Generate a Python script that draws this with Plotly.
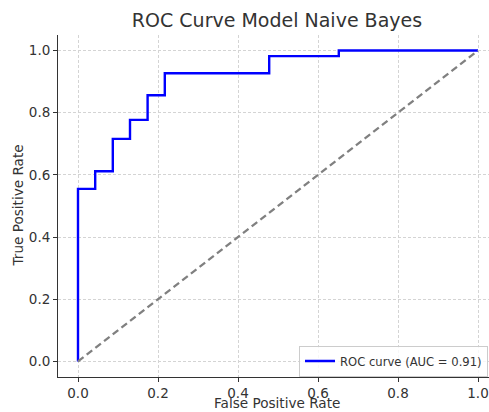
import plotly.graph_objects as go

# ROC curve points (step curve)
fpr = [0.0, 0.0, 0.043, 0.043, 0.087, 0.087, 0.130, 0.130, 0.174, 0.174, 0.217, 0.217, 0.478, 0.478, 0.652, 0.652, 1.0]
tpr = [0.0, 0.555, 0.555, 0.612, 0.612, 0.716, 0.716, 0.777, 0.777, 0.856, 0.856, 0.927, 0.927, 0.982, 0.982, 1.0, 1.0]
diag_x = [0.0, 1.0]
diag_y = [0.0, 1.0]
tick_vals = [0.0, 0.2, 0.4, 0.6, 0.8, 1.0]
tick_text = ["0.0", "0.2", "0.4", "0.6", "0.8", "1.0"]
auc_value = 0.91

FONT = "DejaVu Sans"
W, H = 498, 412          # figure a bit wider than the window; right part is cropped like the reference
ML, MR, MT, MB = 58, 0, 35, 35
PW = W - ML - MR
PH = H - MT - MB

fig = go.Figure()
fig.add_trace(go.Scatter(
    x=fpr, y=tpr, mode="lines",
    line=dict(color="#0000ff", width=2.4),
    name=f"ROC curve (AUC = {auc_value:.2f})",
))
fig.add_trace(go.Scatter(
    x=diag_x, y=diag_y, mode="lines",
    line=dict(color="#808080", width=2.3, dash="7px,4px"),
    showlegend=False,
))

axis_common = dict(
    showline=True, linecolor="#333333", linewidth=1,
    ticks="outside", ticklen=4, tickcolor="#333333", tickwidth=1,
    showgrid=True, gridcolor="#d4d4d4", gridwidth=0.7, griddash="3px,2px",
    zeroline=False, mirror=False, automargin=False,
    tickfont=dict(family=FONT, size=13.5, color="#333333"),
    tickvals=tick_vals, ticktext=tick_text,
)

title_font = dict(family=FONT, size=13.6, color="#333333")

fig.update_layout(
    width=W, height=H,
    margin=dict(l=ML, r=MR, t=MT, b=MB),
    paper_bgcolor="white", plot_bgcolor="white",
    title=dict(
        text="ROC Curve Model Naive Bayes",
        font=dict(family=FONT, size=19, color="#333333"),
        x=(277 - ML) / PW, xanchor="center", xref="paper",
        y=1 - 20 / H, yanchor="middle",
    ),
    xaxis=dict(range=[-0.05, 1.05], ticklabelstandoff=0, **axis_common),
    yaxis=dict(range=[-0.05, 1.05], **axis_common),
    legend=dict(
        x=(488 - ML) / PW, xanchor="right",
        y=(377 - 361) / PH, yanchor="middle",
        bgcolor="rgba(255,255,255,0.8)", bordercolor="#cccccc", borderwidth=1,
        font=dict(family=FONT, size=11.6, color="#333333"),
        itemwidth=30, tracegroupgap=0,
    ),
    showlegend=True,
    annotations=[
        dict(text="False Positive Rate", xref="paper", yref="paper",
             x=(277 - ML) / PW, y=(377 - 412) / PH, xanchor="center", yanchor="bottom",
             borderpad=0, showarrow=False, font=title_font),
        dict(text="True Positive Rate", xref="paper", yref="paper",
             x=(17.5 - ML) / PW, y=(377 - 206) / PH, xanchor="center", yanchor="middle",
             borderpad=0, textangle=-90, showarrow=False, font=title_font),
    ],
)

fig.write_html(
    "out.html",
    config={"displayModeBar": False},
    post_script="document.body.style.margin='0';document.body.style.overflow='hidden';",
)
